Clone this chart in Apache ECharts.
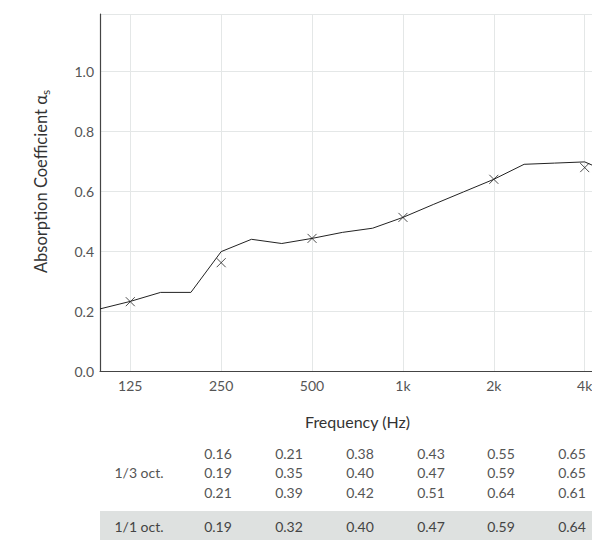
<!DOCTYPE html>
<html>
<head>
<meta charset="utf-8">
<script src="https://cdn.jsdelivr.net/npm/echarts@6/dist/echarts.min.js"></script>
<style>
html,body{margin:0;padding:0;background:#fff;overflow:hidden;}
#wrap{width:592px;height:540px;overflow:hidden;position:relative;}
#chart{width:615px;height:540px;}
</style>
</head>
<body>
<div id="wrap"><div id="chart"></div></div>
<script>
// 1/3-octave centre frequencies (Hz)
const freqs = [100,125,160,200,250,315,400,500,630,800,1000,1250,1600,2000,2500,3150,4000,5000];
// curve values
const curveValues = [0.207,0.232,0.262,0.262,0.398,0.439,0.425,0.442,0.462,0.476,0.512,0.555,0.597,0.639,0.689,0.693,0.697,0.653];
// octave markers (x)
const markerFreqs = [125,250,500,1000,2000,4000];
const markerValues = [0.231,0.361,0.442,0.512,0.639,0.678];
// tick labels
const octaveLabels = {125:'125',250:'250',500:'500',1000:'1k',2000:'2k',4000:'4k'};
const yTicks = [0.0,0.2,0.4,0.6,0.8,1.0];
// table
const rowLabels = ['1/3 oct.','1/1 oct.'];
const thirdOct = [[0.16,0.19,0.21],[0.21,0.35,0.39],[0.38,0.40,0.42],[0.43,0.47,0.51],[0.55,0.59,0.64],[0.65,0.65,0.61]];
const fullOct = [0.19,0.32,0.40,0.47,0.59,0.64];

const FONT = 'Lato';
const cats = freqs.map(String);
const isOct = (v) => octaveLabels[Number(v)] !== undefined;

// table graphics
const colX = [218,289,360,431,501,572];
const rowY = [453,472.5,492];
const g = [];
g.push({type:'rect', shape:{x:100,y:511,width:515,height:29}, style:{fill:'#dee1e0'}, z:0});
g.push({type:'text', x:139, y:472.5, style:{text:rowLabels[0], font:'14px '+FONT, fill:'#555', textAlign:'center', textVerticalAlign:'middle'}});
g.push({type:'text', x:139, y:526, style:{text:rowLabels[1], font:'14px '+FONT, fill:'#444', textAlign:'center', textVerticalAlign:'middle'}, z:2});
thirdOct.forEach((col,i)=>{
  col.forEach((v,j)=>{
    g.push({type:'text', x:colX[i], y:rowY[j], style:{text:v.toFixed(2), font:'14px '+FONT, fill:'#555', textAlign:'center', textVerticalAlign:'middle'}});
  });
});
fullOct.forEach((v,i)=>{
  g.push({type:'text', x:colX[i], y:526, style:{text:v.toFixed(2), font:'14px '+FONT, fill:'#444', textAlign:'center', textVerticalAlign:'middle'}, z:2});
});

const chart = echarts.init(document.getElementById('chart'), null, {renderer:'svg'});
chart.setOption({
  animation:false,
  backgroundColor:'#fff',
  textStyle:{fontFamily:FONT},
  grid:{left:100, right:0, top:14, height:357, containLabel:false},
  xAxis:{
    type:'category', data:cats, boundaryGap:false,
    name:'Frequency (Hz)', nameLocation:'middle', nameGap:42,
    nameTextStyle:{fontSize:16, color:'#333', fontFamily:FONT},
    axisLine:{lineStyle:{color:'#444', width:1.2}},
    axisTick:{show:false},
    axisLabel:{interval:(i,v)=>isOct(v), formatter:(v)=>octaveLabels[Number(v)]||'', color:'#555', fontSize:14, margin:7, fontFamily:FONT},
    splitLine:{show:true, interval:(i,v)=>isOct(v), lineStyle:{color:'#e4e7e7', width:1}}
  },
  yAxis:{
    type:'value', min:0, max:1.19, interval:0.2,
    name:'Absorption Coefficient α{sub|s}', nameLocation:'middle', nameGap:49, nameRotate:90,
    nameTextStyle:{fontSize:16.5, color:'#333', fontFamily:FONT, padding:[0,0,0,22], rich:{sub:{fontSize:12, color:'#333', fontFamily:FONT, padding:[8,0,0,0]}}},
    axisLine:{show:true, lineStyle:{color:'#444', width:1.2}},
    axisTick:{show:false},
    axisLabel:{color:'#555', fontSize:14, margin:6, fontFamily:FONT, showMaxLabel:false,
      formatter:(v)=> yTicks.some(t=>Math.abs(t-v)<1e-6) ? v.toFixed(1) : ''},
    splitLine:{show:true, lineStyle:{color:'#e4e7e7', width:1}}
  },
  series:[
    {type:'line', data:curveValues, symbol:'none', lineStyle:{color:'#222', width:1}, z:3},
    {type:'scatter', data:markerFreqs.map((f,i)=>[String(f), markerValues[i]]),
     symbol:'path://M0,0L10,10M10,0L0,10', symbolSize:9,
     itemStyle:{color:'transparent', borderColor:'#222', borderWidth:1}, z:4}
  ],
  graphic:g
});
</script>
</body>
</html>
